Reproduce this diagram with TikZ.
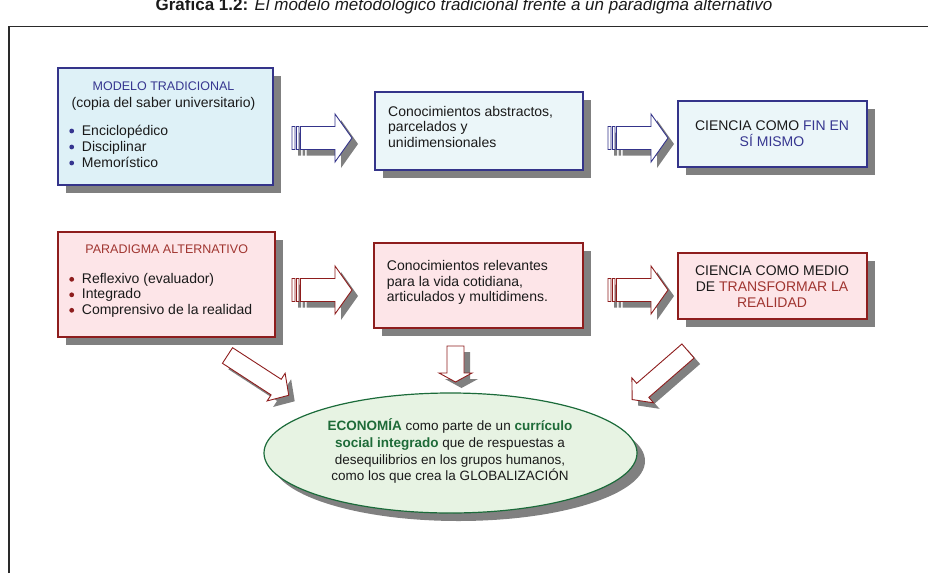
\documentclass[tikz,border=0pt]{standalone}
\usepackage{fontspec}
\setmainfont{Liberation Sans}
\usetikzlibrary{shadows,shapes.geometric}

\definecolor{textcol}{HTML}{1A1A1A}
\definecolor{navytext}{HTML}{363690}
\definecolor{navyline}{HTML}{34348A}
\definecolor{redline}{HTML}{8E1D1D}
\definecolor{redtext}{HTML}{A03530}
\definecolor{bluefillA}{HTML}{DEF1F7}
\definecolor{bluefillB}{HTML}{EBF6F9}
\definecolor{redfill}{HTML}{FDE5E8}
\definecolor{shadowgray}{HTML}{808080}
\definecolor{egreen}{HTML}{1E6B38}
\definecolor{eline}{HTML}{1B6B3A}
\definecolor{efill}{HTML}{E7F3E3}
\definecolor{framecol}{HTML}{2A2A2A}

% block arrow along local x: #1 shaft length, #2 head length, #3 shaft half width, #4 head half width
\newcommand\blkarrowpath[4]{(0,-#3) -- (#1,-#3) -- (#1,-#4) -- ({#1+#2},0) -- (#1,#4) -- (#1,#3) -- (0,#3) -- cycle}
% striped right arrow: two thin bars followed by a block arrow
\newcommand\stripedpath{(0,-11.5) rectangle (3,11.5) (4.5,-11.5) rectangle (7,11.5) (8.5,-11.5) -- (43,-11.5) -- (43,-24) -- (60,0) -- (43,24) -- (43,11.5) -- (8.5,11.5) -- cycle}

\tikzset{
  boxshadow/.style={general shadow={fill=shadowgray, shadow xshift=8pt, shadow yshift=-8pt}},
  bluebox/.style={draw=navyline, line width=1.2pt, fill=bluefillB, inner sep=0pt, boxshadow},
  redbox/.style={draw=redline, line width=1.2pt, fill=redfill, inner sep=0pt, boxshadow},
  txt/.style={inner sep=0pt, text=textcol, font=\fontsize{14}{16}\selectfont},
  hdr/.style={inner sep=0pt, font=\fontsize{12.5}{15}\selectfont},
  etxt/.style={inner sep=0pt, text=textcol, font=\fontsize{13.5}{16}\selectfont, anchor=base},
  arrshadow/.style={fill=shadowgray, draw=none},
  bluearrow/.style={draw=navyline, fill=white, line width=0.9pt},
  redarrow/.style={draw=redline, fill=white, line width=0.9pt},
}

\begin{document}
\begin{tikzpicture}[x=1pt,y=-1pt]
\useasboundingbox (0,0) rectangle (928,573);

% caption and frame
\node[inner sep=0pt, anchor=base, text=textcol, font=\fontsize{17}{20}\selectfont] (caption) at (464,10.5)
  {\textbf{Gráfica 1.2:} \textit{El modelo metodológico tradicional frente a un paradigma alternativo}};
\draw[framecol, line width=1.5pt] (9,573) -- (9,26.5) -- (928,26.5);

% first row: traditional model
\node[bluebox, fill=bluefillA, minimum width=215pt, minimum height=117pt] (trad) at (165.5,126.5) {};
\node[hdr, anchor=base, text=navytext] (tradh) at (163.5,90.5) {MODELO TRADICIONAL};
\node[txt, anchor=base] (trads) at (163.5,107) {(copia del saber universitario)};
\node[txt, anchor=base west] (trad1) at (81.7,135) {Enciclopédico};
\node[txt, anchor=base west] (trad2) at (81.7,151) {Disciplinar};
\node[txt, anchor=base west] (trad3) at (81.7,167) {Memorístico};
\foreach \yy in {131,147,163} \fill[navytext] (71.7,\yy) circle (2.4);

\node[bluebox, minimum width=208pt, minimum height=78pt] (abst) at (479,131) {};
\node[txt, anchor=base west] (abst1) at (388,116) {Conocimientos abstractos,};
\node[txt, anchor=base west] (abst2) at (388,131.5) {parcelados y};
\node[txt, anchor=base west] (abst3) at (388,147) {unidimensionales};

\node[bluebox, minimum width=189pt, minimum height=66pt] (fin) at (772.5,134) {};
\node[txt, anchor=base] (fin1) at (772,130) {CIENCIA COMO \textcolor{navytext}{FIN EN}};
\node[txt, anchor=base] (fin2) at (772,146.7) {\textcolor{navytext}{SÍ MISMO}};

% second row: alternative paradigm
\node[redbox, minimum width=217pt, minimum height=105pt] (alt) at (166.5,284.5) {};
\node[hdr, anchor=base, text=redtext] (alth) at (166.7,253.3) {PARADIGMA ALTERNATIVO};
\node[txt, anchor=base west] (alt1) at (81.7,283.3) {Reflexivo (evaluador)};
\node[txt, anchor=base west] (alt2) at (81.7,298.8) {Integrado};
\node[txt, anchor=base west] (alt3) at (81.7,314.3) {Comprensivo de la realidad};
\foreach \yy in {279.3,294.8,310.3} \fill[redline] (71.7,\yy) circle (2.4);

\node[redbox, minimum width=209pt, minimum height=85pt] (rel) at (478.5,285.5) {};
\node[txt, anchor=base west] (rel1) at (386.7,270.7) {Conocimientos relevantes};
\node[txt, anchor=base west] (rel2) at (386.7,286) {para la vida cotidiana,};
\node[txt, anchor=base west] (rel3) at (386.7,301.3) {articulados y multidimens.};

\node[redbox, minimum width=189pt, minimum height=66pt] (med) at (772.5,286) {};
\node[txt, anchor=base] (med1) at (772,275) {CIENCIA COMO MEDIO};
\node[txt, anchor=base] (med2) at (772,291.5) {DE \textcolor{redtext}{TRANSFORMAR LA}};
\node[txt, anchor=base] (med3) at (772,307.7) {\textcolor{redtext}{REALIDAD}};

% striped arrows between the boxes
\foreach \ax/\ay/\st in {292/138/bluearrow, 608/138/bluearrow, 292/290/redarrow, 608/290/redarrow}{
  \fill[arrshadow, shift={({\ax+6},{\ay+6})}] \stripedpath;
  \draw[\st, shift={(\ax,\ay)}] \stripedpath;
}

% arrows converging on the ellipse
\fill[arrshadow, shift={(233.5,361.5)}, rotate=-33] \blkarrowpath{58}{15}{9.3}{16.5};
\draw[redarrow, shift={(227.5,355.5)}, rotate=-33] \blkarrowpath{58}{15}{9.3}{16.5};
\fill[arrshadow, shift={(461.5,352)}, rotate=-90] \blkarrowpath{27}{9}{8.5}{16.5};
\draw[redarrow, shift={(455.5,346)}, rotate=-90] \blkarrowpath{27}{9}{8.5}{16.5};
\fill[arrshadow, shift={(694,357)}, rotate=-139] \blkarrowpath{60}{14}{9.3}{16.5};
\draw[redarrow, shift={(688,351)}, rotate=-139] \blkarrowpath{60}{14}{9.3}{16.5};

% economics as part of an integrated social curriculum
\node[ellipse, draw=eline, line width=1.2pt, fill=efill, minimum width=373pt, minimum height=120pt,
      general shadow={fill=shadowgray, shadow xshift=8pt, shadow yshift=-8pt}] (eco) at (450.5,453) {};
\node[etxt] (eco1) at (450,430.7) {\textbf{\textcolor{egreen}{ECONOMÍA}} como parte de un \textbf{\textcolor{egreen}{currículo}}};
\node[etxt] (eco2) at (450,447.4) {\textbf{\textcolor{egreen}{social integrado}} que de respuestas a};
\node[etxt] (eco3) at (450,464) {desequilibrios en los grupos humanos,};
\node[etxt] (eco4) at (450,480.7) {como los que crea la GLOBALIZACIÓN};
\end{tikzpicture}
\end{document}
